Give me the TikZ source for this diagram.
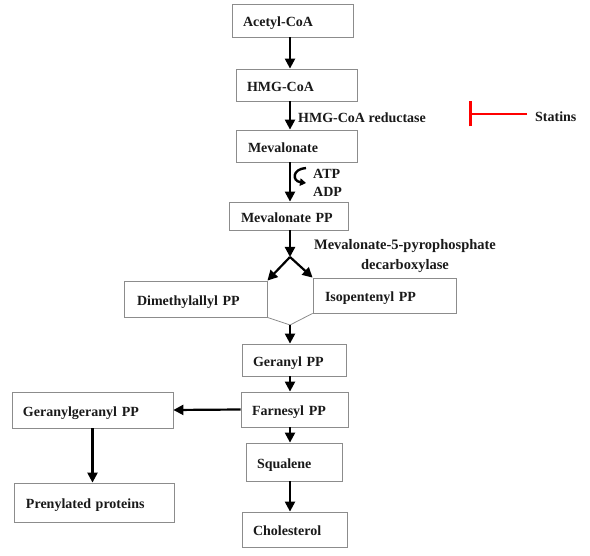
\documentclass[tikz,border=0pt]{standalone}
\usepackage{fontspec}
\setmainfont{Liberation Serif}
\usetikzlibrary{arrows.meta}
\begin{document}
\begin{tikzpicture}[x=1pt,y=-1pt,
  every node/.style={font=\fontsize{14}{17}\selectfont\bfseries, text=black!90},
  box/.style={draw=black!45, line width=0.8pt, inner xsep=11pt, inner ysep=0pt, anchor=center, text height=13pt, text depth=0pt},
  arr/.style={line width=2.2pt, -{Triangle[length=10pt,width=10pt]}},
  lbl/.style={anchor=west, inner sep=0pt}
]
\useasboundingbox (0,0) rectangle (590,556);
\coordinate (axis) at (290,0);
% boxes
\node[box, minimum width=121pt, minimum height=33pt, text width=99pt] (acetyl) at (292.5,20.5) {Acetyl-CoA};
\node[box, minimum width=121pt, minimum height=32pt, text width=99pt] (hmg) at (296.5,85) {HMG-CoA};
\node[box, minimum width=121pt, minimum height=32pt, text width=97pt, inner xsep=12pt] (meval) at (296.5,146) {Mevalonate};
\node[box, minimum width=119pt, minimum height=28pt, text width=95pt, inner xsep=12pt] (mpp) at (288.5,216) {Mevalonate PP};
\node[box, minimum width=143pt, minimum height=36pt, text width=117pt, inner xsep=13pt] (dmapp) at (195.5,299) {Dimethylallyl PP};
\node[box, minimum width=143pt, minimum height=35pt, text width=119pt, inner xsep=12pt] (ipp) at (384.5,295.5) {Isopentenyl PP};
\node[box, minimum width=104pt, minimum height=32pt, text width=82pt] (gpp) at (294,360) {Geranyl PP};
\node[box, minimum width=107pt, minimum height=35pt, text width=85pt] (fpp) at (294.5,409.5) {Farnesyl PP};
\node[box, minimum width=96pt, minimum height=38pt, text width=74pt] (sq) at (294,462) {Squalene};
\node[box, minimum width=105pt, minimum height=35pt, text width=83pt] (chol) at (294.5,529.5) {Cholesterol};
\node[box, minimum width=161pt, minimum height=36pt, text width=139pt] (ggpp) at (92.5,410) {Geranylgeranyl PP};
\node[box, minimum width=160pt, minimum height=39pt, text width=136pt, inner xsep=12pt] (prot) at (94,502.5) {Prenylated proteins};
% labels
\node[lbl] (redlbl) at (298,118) {HMG-CoA reductase};
\node[lbl] (atp) at (313,174) {ATP};
\node[lbl] (adp) at (313,192) {ADP};
\node[align=center, inner sep=0pt, font=\fontsize{14.5}{17}\selectfont\bfseries] (mpd) at (405,256) {Mevalonate-5-pyrophosphate\\[3pt]decarboxylase};
\node[lbl] (statins) at (535,117) {Statins};
% main arrows
\draw[arr] (acetyl.south -| axis) -- (hmg.north -| axis);
\draw[arr] (hmg.south -| axis) -- (meval.north -| axis);
\draw[arr] (meval.south -| axis) -- (mpp.north -| axis);
% ATP/ADP hook
\coordinate (hookA) at (306,168);
\coordinate (hookB) at (306,183);
\draw[line width=2.4pt, -{Triangle[length=6pt,width=7.5pt]}] (hookA) .. controls (292,169) and (292,181) .. (hookB);
% split
\coordinate (split) at (290,257);
\coordinate (vbot) at (290,325);
\draw[arr] (mpp.south -| axis) -- (split);
\draw[arr] (split) -- (dmapp.north east);
\draw[arr] (split) -- (ipp.north west);
\draw[draw=black!45, line width=0.8pt] (dmapp.south east) -- (vbot) -- (ipp.south west);
\draw[arr] (vbot) -- (gpp.north -| axis);
\draw[arr] (gpp.south -| axis) -- (fpp.north -| axis);
\draw[arr] (fpp.south -| axis) -- (sq.north -| axis);
\draw[arr] (sq.south -| axis) -- (chol.north -| axis);
\draw[arr] (fpp.west) -- (ggpp.east);
\draw[arr] (ggpp.south) -- (prot.north -| ggpp.south);
% statins inhibition
\coordinate (tbar) at (469,114);
\coordinate (tstart) at (527,114);
\draw[red, line width=2.8pt, -{Bar[width=25pt,line width=2.8pt]}] (tstart) -- (tbar);
\end{tikzpicture}
\end{document}
